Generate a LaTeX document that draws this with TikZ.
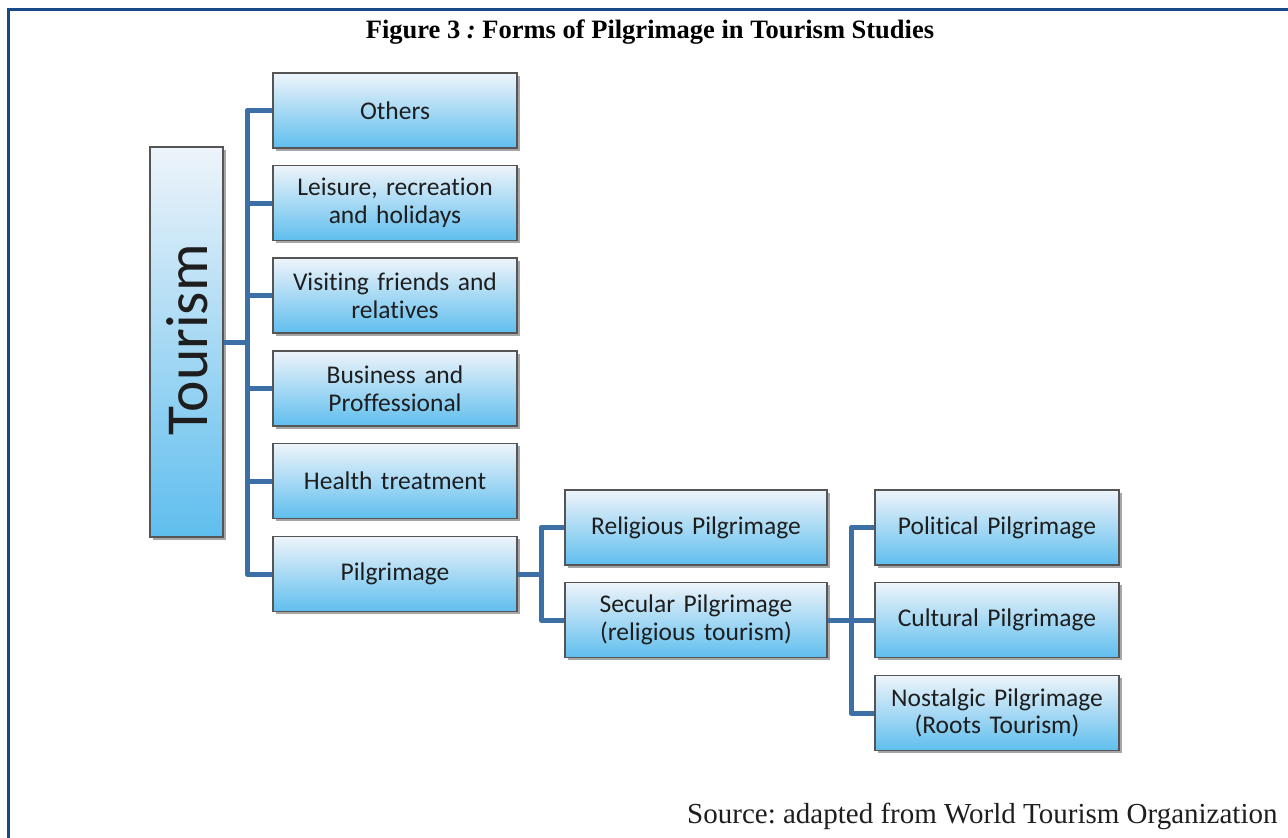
\documentclass[tikz,border=0pt]{standalone}
\usepackage{fontspec}
\setmainfont{Liberation Serif}
\newfontfamily\carl[RawFeature=-liga]{Carlito}
\usetikzlibrary{shadows}
\frenchspacing
\definecolor{frameblue}{HTML}{174A86}
\definecolor{connblue}{HTML}{3C6FA6}
\definecolor{boxtop}{HTML}{EEF4FA}
\definecolor{boxbot}{HTML}{5FBEEE}
\definecolor{boxedge}{HTML}{555555}
\definecolor{txt}{HTML}{1E1E1E}
\tikzset{
  box/.style={draw=boxedge, line width=1.2pt, top color=boxtop, bottom color=boxbot,
    minimum height=75pt, align=center, font=\carl\fontsize{25.5}{27.5}\selectfont\frenchspacing, text=txt,
    inner sep=2pt, drop shadow={shadow xshift=2.5pt, shadow yshift=-2.5pt, fill=black, opacity=0.35}},
  boxA/.style={box, minimum width=244pt, text width=240pt},
  boxB/.style={box, minimum width=262pt, text width=258pt},
  conn/.style={draw=connblue, line width=5pt, line join=round, line cap=butt},
}
\begin{document}
\begin{tikzpicture}[x=1pt,y=-1pt]
\useasboundingbox (0,0) rectangle (1288,838);
% frame
\draw[frameblue, line width=3pt] (8,840) -- (8,9) -- (1290,9);
% title
\node[font=\bfseries\fontsize{26.5}{30}\selectfont\frenchspacing, text=black] (title) at (650,32)
  {Figure 3 \textit{:} Forms of Pilgrimage in Tourism Studies};
% tourism
\node[draw=boxedge, line width=1.2pt, top color=boxtop, bottom color=boxbot,
  minimum width=73pt, minimum height=390pt, inner sep=0pt,
  drop shadow={shadow xshift=2.5pt, shadow yshift=-2.5pt, fill=black, opacity=0.35}] (tour) at (186.5,342) {};
\node[rotate=90, font=\carl\fontsize{59.5}{62}\selectfont, text=txt] (tourtext) at (187,340) {Tourism};
% level 1
\node[boxA] (others) at (395,110.5) {Others};
\node[boxA] (leisure) at (395,203) {Leisure, recreation\\and holidays};
\node[boxA] (visit) at (395,295.5) {Visiting friends and\\relatives};
\node[boxA] (business) at (395,388.5) {Business and\\Proffessional};
\node[boxA] (health) at (395,481) {Health treatment};
\node[boxA] (pil) at (395,574) {Pilgrimage};
% level 2
\node[boxB] (relig) at (696,527.5) {Religious Pilgrimage};
\node[boxB] (secul) at (696,620) {Secular Pilgrimage\\(religious tourism)};
% level 3
\node[boxA] (polit) at (997,527.5) {Political Pilgrimage};
\node[boxA] (cult) at (997,620) {Cultural Pilgrimage};
\node[boxA] (nost) at (997,713) {Nostalgic Pilgrimage\\(Roots Tourism)};
% connectors
\coordinate (t1) at (247,342);
\draw[conn] (tour.east) -- (t1);
\draw[conn] (others.west) -- (t1 |- others.west) -- (t1 |- pil.west) -- (pil.west);
\foreach \n in {leisure,visit,business,health}{\draw[conn] (t1 |- \n.west) -- (\n.west);}
\coordinate (t2) at (541,574);
\draw[conn] (pil.east) -- (t2);
\draw[conn] (relig.west) -- (t2 |- relig.west) -- (t2 |- secul.west) -- (secul.west);
\coordinate (t3) at (851,620);
\draw[conn] (secul.east) -- (t3);
\draw[conn] (polit.west) -- (t3 |- polit.west) -- (t3 |- nost.west) -- (nost.west);
\draw[conn] (t3 |- cult.west) -- (cult.west);
% source
\node[anchor=base east, font=\fontsize{29}{33}\selectfont\frenchspacing, text=txt] (src) at (1281,823)
  {Source: adapted from World Tourism Organization};
\end{tikzpicture}
\end{document}
